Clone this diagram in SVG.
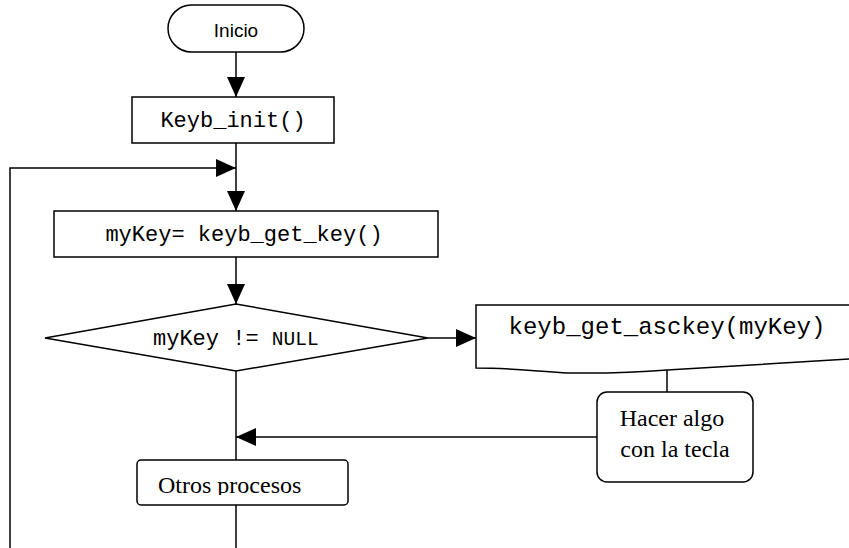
<svg xmlns="http://www.w3.org/2000/svg" width="849" height="548" viewBox="0 0 849 548">
<style>
.s{fill:#fff;stroke:#000;stroke-width:1.5}
.l{fill:none;stroke:#000;stroke-width:1.5}
.m{font-family:"Liberation Mono","Courier New",monospace;fill:#000}
.a{font-family:"Liberation Sans",Arial,sans-serif;fill:#000}
.t{font-family:"Liberation Serif","Times New Roman",serif;fill:#000}
</style>
<defs>
<marker id="ar" viewBox="0 0 20 18" refX="20" refY="9" markerWidth="20" markerHeight="18" markerUnits="userSpaceOnUse" orient="auto">
<path d="M0,0 L20,9 L0,18 Z" fill="#000"/>
</marker>
<clipPath id="oc"><rect x="137" y="460" width="211" height="35"/></clipPath>
</defs>
<g id="connectors">
<line class="l" x1="236" y1="52" x2="236" y2="97" marker-end="url(#ar)"/>
<line class="l" x1="236" y1="143" x2="236" y2="211" marker-end="url(#ar)"/>
<polyline class="l" points="10,548 10,168 236,168" marker-end="url(#ar)"/>
<line class="l" x1="236" y1="257" x2="236" y2="304" marker-end="url(#ar)"/>
<line class="l" x1="428" y1="338" x2="476" y2="338" marker-end="url(#ar)"/>
<line class="l" x1="667" y1="370" x2="667" y2="392"/>
<line class="l" x1="597" y1="437" x2="236" y2="437" marker-end="url(#ar)"/>
<line class="l" x1="236" y1="371" x2="236" y2="460"/>
<line class="l" x1="236" y1="505" x2="236" y2="548"/>
</g>
<g id="inicio">
<rect class="s" x="168" y="5" width="136" height="47" rx="23.5"/>
<text class="a" x="236" y="37" font-size="19" text-anchor="middle">Inicio</text>
</g>
<g id="keyb_init">
<rect class="s" x="132" y="97" width="202" height="46"/>
<text class="m" x="233" y="127" font-size="22" text-anchor="middle">Keyb_init()</text>
</g>
<g id="getkey">
<rect class="s" x="54" y="211" width="384" height="46"/>
<text class="m" x="244" y="241" font-size="22" text-anchor="middle">myKey= keyb_get_key()</text>
</g>
<g id="decision">
<polygon class="s" points="45,338 236,304 428,338 236,371"/>
<text class="m" x="153" y="345" font-size="22">myKey != <tspan font-size="19.5">NULL</tspan></text>
</g>
<g id="asckey">
<path class="s" d="M476,305 L851,305 L851,359 C760,364 700,368 667,370 C620,374 580,373 566,373 C530,370 500,368 476,368 Z"/>
<text class="m" x="667" y="334" font-size="24" text-anchor="middle">keyb_get_asckey(myKey)</text>
</g>
<g id="hacer">
<rect class="s" x="597" y="392" width="156" height="90" rx="10"/>
<text class="t" x="672" y="426" font-size="24" text-anchor="middle">Hacer algo</text>
<text class="t" x="675" y="457" font-size="24" text-anchor="middle">con la tecla</text>
</g>
<g id="otros">
<rect class="s" x="137" y="460" width="211" height="45" rx="4"/>
<text class="t" x="158" y="493" font-size="24" clip-path="url(#oc)">Otros procesos</text>
</g>
</svg>
